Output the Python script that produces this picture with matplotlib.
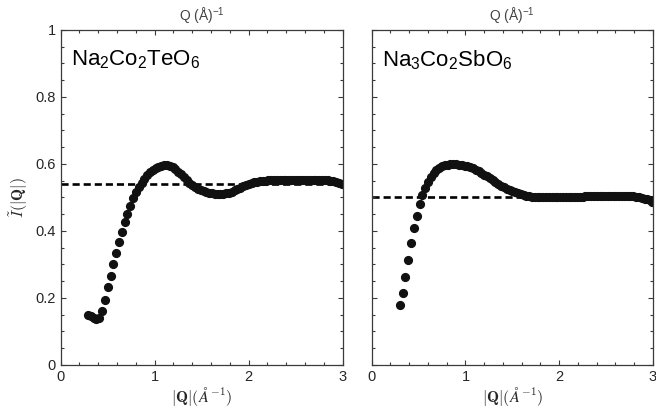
import matplotlib
matplotlib.use('Agg')
import matplotlib.pyplot as plt
from matplotlib.ticker import MultipleLocator

plt.rcParams['font.family'] = ['Liberation Sans', 'DejaVu Sans']
plt.rcParams['mathtext.fontset'] = 'custom'
plt.rcParams['mathtext.rm'] = 'Liberation Sans'
plt.rcParams['mathtext.it'] = 'Liberation Sans:italic'
plt.rcParams['mathtext.bf'] = 'Liberation Sans:bold'

# Na2Co2TeO6
q_te = [0.29, 0.32, 0.35, 0.38, 0.41, 0.44, 0.47, 0.50, 0.53, 0.56,
        0.59, 0.62, 0.65, 0.68, 0.71, 0.74, 0.77, 0.80, 0.83, 0.86,
        0.89, 0.92, 0.95, 0.98, 1.01, 1.04, 1.07, 1.10, 1.13, 1.16,
        1.19, 1.22, 1.25, 1.28, 1.31, 1.34, 1.37, 1.40, 1.43, 1.46,
        1.49, 1.52, 1.55, 1.58, 1.61, 1.64, 1.67, 1.70, 1.73, 1.76,
        1.79, 1.82, 1.85, 1.88, 1.91, 1.94, 1.97, 2.00, 2.03, 2.06,
        2.09, 2.12, 2.15, 2.18, 2.21, 2.24, 2.27, 2.30, 2.33, 2.36,
        2.39, 2.42, 2.45, 2.48, 2.51, 2.54, 2.57, 2.60, 2.63, 2.66,
        2.69, 2.72, 2.75, 2.78, 2.81, 2.84, 2.87, 2.90, 2.93, 2.96, 2.99]
i_te = [0.149, 0.145, 0.140, 0.136, 0.140, 0.160, 0.195, 0.232, 0.266, 0.300,
        0.335, 0.368, 0.398, 0.427, 0.452, 0.476, 0.497, 0.515, 0.530, 0.544,
        0.556, 0.566, 0.575, 0.582, 0.588, 0.592, 0.595, 0.596, 0.596, 0.594,
        0.590, 0.584, 0.577, 0.569, 0.560, 0.551, 0.543, 0.536, 0.530, 0.525,
        0.521, 0.518, 0.515, 0.513, 0.512, 0.511, 0.510, 0.510, 0.511, 0.512,
        0.514, 0.517, 0.521, 0.525, 0.529, 0.533, 0.537, 0.540, 0.543, 0.545,
        0.547, 0.548, 0.549, 0.550, 0.551, 0.551, 0.552, 0.552, 0.552, 0.553,
        0.553, 0.553, 0.553, 0.553, 0.553, 0.553, 0.553, 0.553, 0.553, 0.553,
        0.553, 0.553, 0.553, 0.553, 0.552, 0.551, 0.550, 0.549, 0.547, 0.544, 0.540]
avg_te = 0.541

# Na3Co2SbO6
q_sb = [0.30, 0.33, 0.36, 0.39, 0.42, 0.45, 0.48, 0.51, 0.54, 0.57,
        0.60, 0.63, 0.66, 0.69, 0.72, 0.75, 0.78, 0.81, 0.84, 0.87,
        0.90, 0.93, 0.96, 0.99, 1.02, 1.05, 1.08, 1.11, 1.14, 1.17,
        1.20, 1.23, 1.26, 1.29, 1.32, 1.35, 1.38, 1.41, 1.44, 1.47,
        1.50, 1.53, 1.56, 1.59, 1.62, 1.65, 1.68, 1.71, 1.74, 1.77,
        1.80, 1.83, 1.86, 1.89, 1.92, 1.95, 1.98, 2.01, 2.04, 2.07,
        2.10, 2.13, 2.16, 2.19, 2.22, 2.25, 2.28, 2.31, 2.34, 2.37,
        2.40, 2.43, 2.46, 2.49, 2.52, 2.55, 2.58, 2.61, 2.64, 2.67,
        2.70, 2.73, 2.76, 2.79, 2.82, 2.85, 2.88, 2.91, 2.94, 2.97, 2.99]
i_sb = [0.180, 0.216, 0.263, 0.314, 0.363, 0.408, 0.446, 0.480, 0.507, 0.529,
        0.547, 0.561, 0.572, 0.581, 0.588, 0.593, 0.596, 0.598, 0.599, 0.600,
        0.599, 0.598, 0.597, 0.595, 0.593, 0.590, 0.587, 0.583, 0.578, 0.573,
        0.568, 0.563, 0.557, 0.552, 0.546, 0.541, 0.535, 0.530, 0.526, 0.522,
        0.518, 0.515, 0.512, 0.509, 0.507, 0.505, 0.503, 0.502, 0.501, 0.500,
        0.500, 0.500, 0.500, 0.500, 0.500, 0.500, 0.500, 0.500, 0.500, 0.501,
        0.501, 0.501, 0.502, 0.502, 0.502, 0.502, 0.503, 0.503, 0.503, 0.503,
        0.503, 0.504, 0.504, 0.504, 0.504, 0.504, 0.504, 0.504, 0.504, 0.504,
        0.504, 0.504, 0.503, 0.503, 0.502, 0.500, 0.498, 0.496, 0.494, 0.491, 0.488]
avg_sb = 0.500

names = ['Na$_\\mathregular{2}$Co$_\\mathregular{2}$TeO$_\\mathregular{6}$',
         'Na$_\\mathregular{3}$Co$_\\mathregular{2}$SbO$_\\mathregular{6}$']

fig = plt.figure(figsize=(6.56, 4.20), dpi=100)
ax1 = fig.add_axes([0.0925, 0.131, 0.4299, 0.7976])
ax2 = fig.add_axes([0.5666, 0.131, 0.4288, 0.7976])

spine_col = '#3a3a3a'
for ax, q, vals, avg, name in [(ax1, q_te, i_te, avg_te, names[0]),
                               (ax2, q_sb, i_sb, avg_sb, names[1])]:
    ax.axhline(avg, color='black', ls=(0, (2.7, 1.5)), lw=1.9, zorder=1)
    ax.plot(q, vals, 'o', ms=5.6, color='#111111', mec='#111111', zorder=2)
    ax.set_xlim(0, 3)
    ax.set_ylim(0, 1)
    ax.xaxis.set_major_locator(MultipleLocator(1))
    ax.xaxis.set_minor_locator(MultipleLocator(0.2))
    ax.yaxis.set_major_locator(MultipleLocator(0.2))
    ax.yaxis.set_minor_locator(MultipleLocator(0.05))
    ax.tick_params(which='both', direction='in', top=True, right=True,
                   color=spine_col, labelcolor='#262626', labelsize=10.5, width=0.8)
    ax.tick_params(which='major', length=3.5)
    ax.tick_params(which='minor', length=2.5)
    ax.set_xticks([0, 1, 2, 3])
    ax.set_xticklabels(['0', '1', '2', '3'])
    for s in ax.spines.values():
        s.set_color(spine_col)
        s.set_linewidth(0.9)
    ax.set_xlabel(r'$|\mathbf{Q}|(\mathit{\AA}^{-1})$', fontsize=11.5,
                  color='#262626', math_fontfamily='cm', labelpad=1)
    ax.set_title('Q (Å)$^\\mathregular{-1}$', fontsize=10, color='#444444', pad=6)
    ax.text(0.035, 0.945, name, transform=ax.transAxes, fontsize=16,
            va='top', ha='left', color='black')

ax1.set_yticks([0, 0.2, 0.4, 0.6, 0.8, 1])
ax1.set_yticklabels(['0', '0.2', '0.4', '0.6', '0.8', '1'])
ax1.set_ylabel(r'$\tilde{I}(|\mathbf{Q}|)$', fontsize=11.5, color='#262626',
               math_fontfamily='cm', labelpad=4)
ax2.set_yticklabels([])

fig.savefig('out.png', dpi=100)
